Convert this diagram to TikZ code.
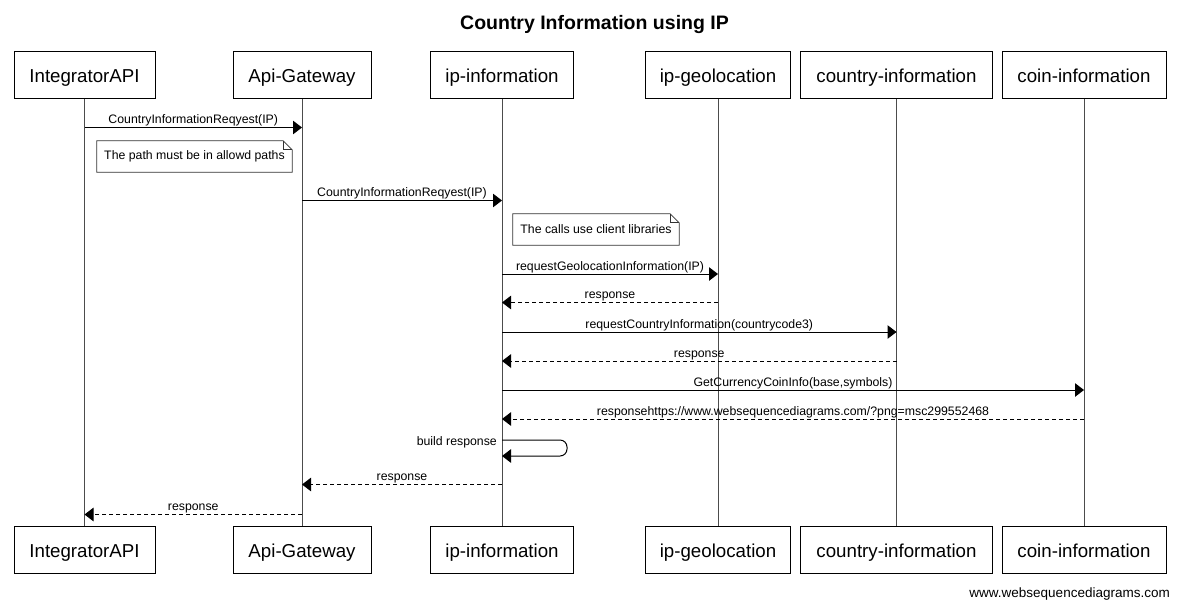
\documentclass[tikz,border=0pt]{standalone}
\usepackage{fontspec}
\setmainfont{Liberation Sans}
\usetikzlibrary{arrows.meta,calc}
\begin{document}
\begin{tikzpicture}[x=1pt,y=-1pt,
  part/.style={draw=black,line width=0.9pt,fill=white,minimum height=47pt,inner sep=0pt,
    text height=14pt,text depth=0pt,font=\fontsize{18.7}{22}\selectfont},
  life/.style={draw=black!70,line width=0.9pt},
  call/.style={draw=black,line width=1pt,-{Triangle[length=9pt,width=13.5pt]}},
  ret/.style={call,dash pattern=on 4pt off 3pt},
  lbl/.style={font=\fontsize{12.3}{14}\selectfont,inner sep=0pt,text depth=0pt,above=3.5pt},
  notetxt/.style={inner sep=0pt,minimum height=31pt,font=\fontsize{12.3}{14}\selectfont},
  notebd/.style={draw=black!80,line width=0.8pt,fill=white},
]
\useasboundingbox (0,0) rectangle (1180,606);

% title
\node[font=\bfseries\fontsize{19.5}{22}\selectfont,anchor=base] (title) at (594.5,29) {Country Information using IP};

% participants top
\node[part,minimum width=141pt] (t1) at (84.5,75) {IntegratorAPI};
\node[part,minimum width=138pt] (t2) at (302,75) {Api-Gateway};
\node[part,minimum width=143pt] (t3) at (502,75) {ip-information};
\node[part,minimum width=145pt] (t4) at (718,75) {ip-geolocation};
\node[part,minimum width=192pt] (t5) at (896.5,75) {country-information};
\node[part,minimum width=164pt] (t6) at (1084,75) {coin-information};
% participants bottom
\node[part,minimum width=141pt] (b1) at (84.5,550) {IntegratorAPI};
\node[part,minimum width=138pt] (b2) at (302,550) {Api-Gateway};
\node[part,minimum width=143pt] (b3) at (502,550) {ip-information};
\node[part,minimum width=145pt] (b4) at (718,550) {ip-geolocation};
\node[part,minimum width=192pt] (b5) at (896.5,550) {country-information};
\node[part,minimum width=164pt] (b6) at (1084,550) {coin-information};

% lifelines
\foreach \i in {1,...,6}{\draw[life] (t\i.south) -- (b\i.north);}

% messages
\draw[call] (t1 |- 0,127.5) -- node[lbl] {CountryInformationReqyest(IP)} (t2 |- 0,127.5);

\node[notetxt,minimum width=195pt] (n1) at (194.5,156.5) {};
\draw[notebd] (n1.south west) -- (n1.north west) -- ([xshift=-9pt]n1.north east)
  -- ([yshift=-9pt]n1.north east) -- (n1.south east) -- cycle;
\draw[draw=black!80,line width=0.8pt] ([xshift=-9pt]n1.north east) -- ([xshift=-9pt,yshift=-9pt]n1.north east) -- ([yshift=-9pt]n1.north east);
\node[notetxt,minimum width=195pt] (n1t) at (n1) {The path must be in allowd paths};

\draw[call] (t2 |- 0,200.5) -- node[lbl] {CountryInformationReqyest(IP)} (t3 |- 0,200.5);

\node[notetxt,minimum width=166pt] (n2) at (596,229.5) {};
\draw[notebd] (n2.south west) -- (n2.north west) -- ([xshift=-9pt]n2.north east)
  -- ([yshift=-9pt]n2.north east) -- (n2.south east) -- cycle;
\draw[draw=black!80,line width=0.8pt] ([xshift=-9pt]n2.north east) -- ([xshift=-9pt,yshift=-9pt]n2.north east) -- ([yshift=-9pt]n2.north east);
\node[notetxt,minimum width=166pt] (n2t) at (n2) {The calls use client libraries};

\draw[call] (t3 |- 0,274) -- node[lbl] {requestGeolocationInformation(IP)} (t4 |- 0,274);
\draw[ret] (t4 |- 0,302.5) -- node[lbl] {response} (t3 |- 0,302.5);
\draw[call] (t3 |- 0,332) -- node[lbl] {requestCountryInformation(countrycode3)} (t5 |- 0,332);
\draw[ret] (t5 |- 0,361) -- node[lbl] {response} (t3 |- 0,361);
\draw[call] (t3 |- 0,390) -- node[lbl] {GetCurrencyCoinInfo(base,symbols)} (t6 |- 0,390);
\draw[ret] (t6 |- 0,419) -- node[lbl] {responsehttps://www.websequencediagrams.com/?png=msc299552468} (t3 |- 0,419);

% self message
\draw[call,rounded corners=7pt] (t3 |- 0,440) -- (567,440) -- (567,456) -- (t3 |- 0,456);
\node[font=\fontsize{12.3}{14}\selectfont,inner sep=0pt,anchor=base east] (br) at (497,445) {build response};

\draw[ret] (t3 |- 0,484.5) -- node[lbl] {response} (t2 |- 0,484.5);
\draw[ret] (t2 |- 0,514.5) -- node[lbl] {response} (t1 |- 0,514.5);

% footer
\node[font=\fontsize{13.5}{16}\selectfont,inner sep=0pt,anchor=base east] (footer) at (1170,597) {www.websequencediagrams.com};
\end{tikzpicture}
\end{document}
